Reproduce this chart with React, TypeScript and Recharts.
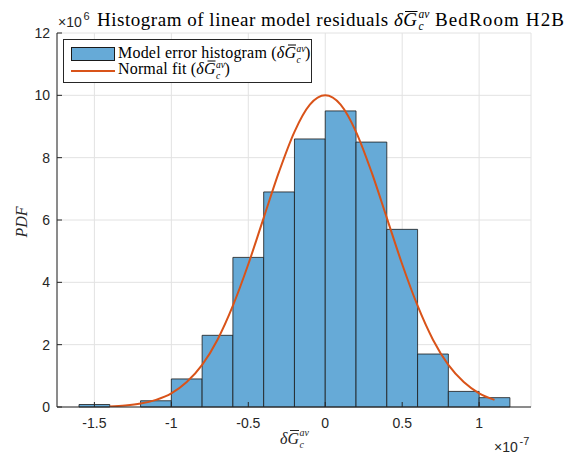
import React from 'react';
import { ComposedChart, Line, XAxis, YAxis, CartesianGrid, ReferenceArea } from 'recharts';

// Histogram bins (x in units of 1e-7, pdf in units of 1e6)
const binEdges = [-1.6, -1.4, -1.2, -1.0, -0.8, -0.6, -0.4, -0.2, 0, 0.2, 0.4, 0.6, 0.8, 1.0, 1.2];
const binPdf = [0.08, 0, 0.2, 0.9, 2.3, 4.8, 6.9, 8.6, 9.5, 8.5, 5.7, 1.7, 0.5, 0.3];

// Normal fit curve
const fitX = [-1.4, -1.3, -1.2, -1.1, -1.0, -0.9, -0.8, -0.7, -0.6, -0.5, -0.4, -0.3, -0.2, -0.1, 0, 0.1, 0.2, 0.3, 0.4, 0.5, 0.6, 0.7, 0.8, 0.9, 1.0, 1.1];
const fitPdf = [0.02, 0.05, 0.11, 0.23, 0.44, 0.8, 1.35, 2.16, 3.25, 4.58, 6.07, 7.55, 8.83, 9.7, 10.0, 9.7, 8.83, 7.55, 6.07, 4.58, 3.25, 2.16, 1.35, 0.8, 0.44, 0.23];

const xTicks = [-1.5, -1, -0.5, 0, 0.5, 1];
const yTicks = [0, 2, 4, 6, 8, 10, 12];
const xDomain: [number, number] = [-1.743, 1.337];
const yDomain: [number, number] = [0, 12];

const fitData = fitX.map((x, i) => ({ x, pdf: fitPdf[i] }));

const serif = "'Liberation Serif', 'Times New Roman', serif";
const sans = "'Liberation Sans', Arial, Helvetica, sans-serif";
const BAR_FILL = '#66AAD7';
const BAR_EDGE = '#1a1a1a';
const LINE_COLOR = '#D95319';
const AXIS = '#262626';

const tickStyle = { fill: AXIS, fontSize: 14, fontFamily: sans };
const noLabel = () => <g />;

function Overlay() {
  return (
    <svg width={568} height={458} style={{ position: 'absolute', left: 0, top: 0, pointerEvents: 'none' }}>
      {/* Title */}
      <text x={97} y={25.5} fontFamily={serif} fontSize={19} fill="#000" textLength={320} lengthAdjust="spacing">
        Histogram of linear model residuals <tspan fontStyle="italic">δG</tspan>
      </text>
      <line x1={405} x2={417.5} y1={11.5} y2={11.5} stroke="#000" strokeWidth={1} />
      <text x={418.5} y={17.5} fontFamily={serif} fontSize={11.5} fontStyle="italic" fill="#000">av</text>
      <text x={418.5} y={30} fontFamily={serif} fontSize={11.5} fontStyle="italic" fill="#000">c</text>
      <text x={435} y={25.5} fontFamily={serif} fontSize={19} fill="#000" textLength={129} lengthAdjust="spacing">BedRoom H2B</text>

      {/* exponent labels */}
      <text x={58} y={26.7} fontFamily={sans} fontSize={14} fill={AXIS}>×10</text>
      <text x={83.5} y={20} fontFamily={sans} fontSize={11} fill={AXIS}>6</text>
      <text x={494} y={451.5} fontFamily={sans} fontSize={14} fill={AXIS}>×10</text>
      <text x={519.5} y={445} fontFamily={sans} fontSize={11} fill={AXIS}>-7</text>

      {/* y label */}
      <text transform="translate(26.7,222) rotate(-90)" textAnchor="middle" fontFamily={serif} fontSize={16} fontStyle="italic" fill={AXIS}>PDF</text>

      {/* x label */}
      <text x={280} y={443.5} fontFamily={serif} fontSize={16} fontStyle="italic" fill={AXIS} textLength={19} lengthAdjust="spacing">δG</text>
      <line x1={290} x2={299} y1={430.5} y2={430.5} stroke={AXIS} strokeWidth={1} />
      <text x={299.5} y={435.5} fontFamily={serif} fontSize={10} fontStyle="italic" fill={AXIS}>av</text>
      <text x={299.5} y={447.5} fontFamily={serif} fontSize={10} fontStyle="italic" fill={AXIS}>c</text>

      {/* Legend */}
      <rect x={63.5} y={39.5} width={248} height={43} fill="#fff" stroke={AXIS} strokeWidth={1} />
      <rect x={71.5} y={47.5} width={43} height={13} fill={BAR_FILL} stroke={BAR_EDGE} strokeWidth={1} />
      <line x1={71} x2={115} y1={71} y2={71} stroke={LINE_COLOR} strokeWidth={2} />
      <text x={118} y={58.3} fontFamily={serif} fontSize={16} fill="#000" textLength={178} lengthAdjust="spacing">
        Model error histogram (<tspan fontStyle="italic">δG</tspan>
      </text>
      <line x1={288} x2={296} y1={45} y2={45} stroke="#000" strokeWidth={1} />
      <text x={296.5} y={52} fontFamily={serif} fontSize={9.5} fontStyle="italic" fill="#000">av</text>
      <text x={296.5} y={63} fontFamily={serif} fontSize={9.5} fontStyle="italic" fill="#000">c</text>
      <text x={305} y={58.3} fontFamily={serif} fontSize={16} fill="#000">)</text>

      <text x={118} y={74.3} fontFamily={serif} fontSize={16} fill="#000" textLength={97.5} lengthAdjust="spacing">
        Normal fit (<tspan fontStyle="italic">δG</tspan>
      </text>
      <line x1={207.5} x2={215.5} y1={61} y2={61} stroke="#000" strokeWidth={1} />
      <text x={216} y={68} fontFamily={serif} fontSize={9.5} fontStyle="italic" fill="#000">av</text>
      <text x={216} y={79} fontFamily={serif} fontSize={9.5} fontStyle="italic" fill="#000">c</text>
      <text x={224.5} y={74.3} fontFamily={serif} fontSize={16} fill="#000">)</text>
    </svg>
  );
}

export default function App() {
  return (
    <div style={{ position: 'absolute', left: 0, top: 0, width: 568, height: 458, background: '#fff' }}>
      <ComposedChart
        width={568}
        height={458}
        data={fitData}
        margin={{ top: 33, right: 37, bottom: 0, left: 0 }}
      >
        <CartesianGrid xAxisId="b" yAxisId="l" stroke="#e2e2e2" strokeWidth={1} />
        <XAxis
          xAxisId="b"
          dataKey="x"
          type="number"
          domain={xDomain}
          allowDataOverflow
          ticks={xTicks}
          height={51}
          tickSize={-5}
          tickMargin={16}
          tick={tickStyle}
          stroke={AXIS}
          interval={0}
        />
        <XAxis
          xAxisId="t"
          orientation="top"
          dataKey="x"
          type="number"
          domain={xDomain}
          allowDataOverflow
          ticks={xTicks}
          height={0}
          tickSize={-5}
          tick={noLabel}
          stroke={AXIS}
          interval={0}
        />
        <YAxis
          yAxisId="l"
          type="number"
          domain={yDomain}
          allowDataOverflow
          ticks={yTicks}
          width={57}
          tickSize={-5}
          tickMargin={12}
          tick={tickStyle}
          stroke={AXIS}
          interval={0}
        />
        <YAxis
          yAxisId="r"
          orientation="right"
          type="number"
          domain={yDomain}
          allowDataOverflow
          ticks={yTicks}
          width={0}
          tickSize={-5}
          tick={noLabel}
          stroke={AXIS}
          interval={0}
        />
        {binPdf.map((v, i) => (
          <ReferenceArea
            key={i}
            xAxisId="b"
            yAxisId="l"
            x1={binEdges[i]}
            x2={binEdges[i + 1]}
            y1={0}
            y2={v}
            fill={BAR_FILL}
            fillOpacity={1}
            stroke={BAR_EDGE}
            strokeWidth={0.8}
            ifOverflow="visible"
          />
        ))}
        <Line
          xAxisId="b"
          yAxisId="l"
          dataKey="pdf"
          type="monotone"
          stroke={LINE_COLOR}
          strokeWidth={2}
          dot={false}
          activeDot={false}
          isAnimationActive={false}
        />
      </ComposedChart>
      <Overlay />
    </div>
  );
}
